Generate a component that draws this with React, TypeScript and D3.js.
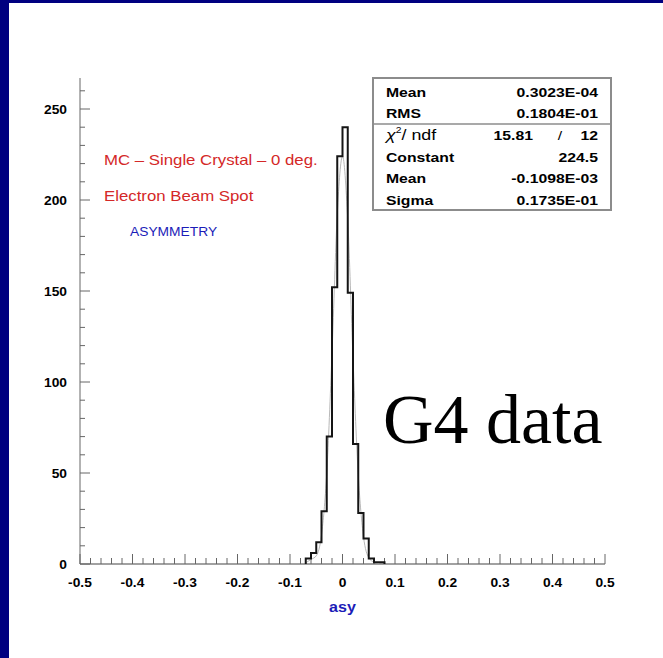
import React from "react";
import * as d3 from "d3";

// ---- data ----
const binLow = [-0.07, -0.06, -0.05, -0.04, -0.03, -0.02, -0.01, 0, 0.01, 0.02, 0.03, 0.04, 0.05, 0.06, 0.07];
const binCounts = [3, 6, 12, 29, 70, 152, 224, 240, 149, 66, 28, 14, 3, 1, 1];
const binWidth = 0.01;

// faint gaussian fit curve
const fitX = [-0.07, -0.06, -0.05, -0.04, -0.03, -0.02, -0.01, 0, 0.01, 0.02, 0.03, 0.04, 0.05, 0.06, 0.07];
const fitY = [0.7, 2.5, 4.5, 16, 50, 116, 192, 224, 189, 113, 49, 15, 3.5, 1, 0.3];

const xTickValues = [-0.5, -0.4, -0.3, -0.2, -0.1, 0, 0.1, 0.2, 0.3, 0.4, 0.5];
const yTickValues = [0, 50, 100, 150, 200, 250];

const statsNames = ["Mean", "RMS"];
const statsValues = ["0.3023E-04", "0.1804E-01"];
const chi2Value = "15.81";
const ndfValue = "12";
const fitNames = ["Constant", "Mean", "Sigma"];
const fitValues = ["224.5", "-0.1098E-03", "0.1735E-01"];

const labelLines = ["MC \u2013 Single Crystal \u2013 0 deg.", "Electron Beam Spot"];
const labelTitle = "ASYMMETRY";
const xAxisTitle = "asy";
const overlayText = "G4 data";

// ---- layout ----
const W = 663;
const H = 658;
const X0 = 80;
const X1 = 605;
const Y0 = 564;
const YTOP = 78;
const SANS = "'Liberation Sans', Arial, Helvetica, sans-serif";
const SX = 1.15;

const x = d3.scaleLinear().domain([-0.5, 0.5]).range([X0, X1]);
const y = d3.scaleLinear().domain([0, 250]).range([Y0, 109]);

function T(props: {
  x: number;
  y: number;
  anchor?: string;
  size: number;
  weight?: string;
  fill?: string;
  sx?: number;
  children: React.ReactNode;
}) {
  const { anchor = "start", size, weight = "normal", fill = "#000", sx = SX } = props;
  return (
    <text
      transform={`translate(${props.x},${props.y}) scale(${sx},1)`}
      textAnchor={anchor}
      fontSize={size}
      fontWeight={weight}
      fill={fill}
      fontFamily={SANS}
    >
      {props.children}
    </text>
  );
}

export default function App() {
  // histogram outline
  let d = `M${x(binLow[0])},${y(0)}`;
  binLow.forEach((lo, i) => {
    d += `V${y(binCounts[i])}H${x(lo + binWidth)}`;
  });
  d += `V${y(0)}`;

  const fitLine = d3
    .line<number>()
    .x((_, i) => x(fitX[i]))
    .y((v) => y(v))
    .curve(d3.curveMonotoneX)(fitY) as string;

  const xMinor = d3.range(-0.5, 0.5001, 0.02);
  const yMinor = d3.range(0, y.invert(YTOP), 10);

  const axisColor = "#666";
  const fmtX = (v: number) => (Math.abs(v) < 1e-9 ? "0" : v.toFixed(1));

  const boxL = 373;
  const boxR = 611;
  const boxT = 78;
  const boxB = 210;
  const rowY = [97, 118, 140, 162, 183, 205];
  const nameX = 386;
  const valX = 598;
  const ST = 13.7;

  return (
    <svg width={W} height={H} style={{ position: "absolute", left: 0, top: 0 }}>
      <rect x={0} y={0} width={W} height={H} fill="#fff" />
      <rect x={0} y={0} width={W} height={3} fill="#000080" />
      <rect x={0} y={0} width={9} height={H} fill="#000080" />

      {/* axes */}
      <line x1={X0} x2={X0} y1={Y0} y2={YTOP} stroke={axisColor} strokeWidth={1} />
      <line x1={X0} x2={X1} y1={Y0} y2={Y0} stroke="#444" strokeWidth={1.2} />
      {yMinor.map((v) => (
        <line key={"ym" + v} x1={X0} x2={X0 + (v % 50 === 0 ? 10 : 5)} y1={y(v)} y2={y(v)} stroke={axisColor} />
      ))}
      {xMinor.map((v, i) => (
        <line key={"xm" + i} x1={x(v)} x2={x(v)} y1={Y0} y2={Y0 - (i % 5 === 0 ? 10 : 6)} stroke={axisColor} />
      ))}
      {yTickValues.map((v) => (
        <T key={"yl" + v} x={67} y={y(v) + 4.5} anchor="end" size={12} weight="bold">
          {String(v)}
        </T>
      ))}
      {xTickValues.map((v) => (
        <T key={"xl" + v} x={x(v)} y={587} anchor="middle" size={12} weight="bold">
          {fmtX(v)}
        </T>
      ))}
      <T x={x(0)} y={612} anchor="middle" size={14} weight="bold" fill="#1c1cb8">
        {xAxisTitle}
      </T>

      {/* fit + histogram */}
      <path d={fitLine} fill="none" stroke="#b8b8b8" strokeWidth={1} />
      <path d={d} fill="none" stroke="#151515" strokeWidth={2} />

      {/* labels */}
      <T x={104} y={165} size={14} sx={1.2} fill="#d42828">
        {labelLines[0]}
      </T>
      <T x={104} y={201} size={14} sx={1.2} fill="#d42828">
        {labelLines[1]}
      </T>
      <T x={130} y={236} size={12} fill="#1c1cb8">
        {labelTitle}
      </T>

      {/* stats box */}
      <rect x={boxL} y={boxT} width={boxR - boxL} height={boxB - boxT} fill="#fff" stroke="#8c8c8c" strokeWidth={2} />
      <line x1={boxL} x2={boxR} y1={124} y2={124} stroke="#8c8c8c" strokeWidth={1.5} />
      {statsNames.map((n, i) => (
        <g key={"s" + i}>
          <T x={nameX} y={rowY[i]} size={ST} weight="bold">
            {n}
          </T>
          <T x={valX} y={rowY[i]} anchor="end" size={ST} weight="bold">
            {statsValues[i]}
          </T>
        </g>
      ))}
      <text
        transform={`translate(${nameX},${rowY[2]}) scale(${SX},1)`}
        fontSize={15.5}
        fontFamily={SANS}
        fill="#000"
      >
        <tspan fontStyle="italic">χ</tspan>
        <tspan fontSize={9} dy={-7}>2</tspan>
        <tspan dy={7}>/ ndf</tspan>
      </text>
      <T x={533} y={rowY[2]} anchor="end" size={ST} weight="bold">
        {chi2Value}
      </T>
      <T x={560} y={rowY[2]} anchor="middle" size={ST}>
        /
      </T>
      <T x={valX} y={rowY[2]} anchor="end" size={ST} weight="bold">
        {ndfValue}
      </T>
      {fitNames.map((n, i) => (
        <g key={"f" + i}>
          <T x={nameX} y={rowY[3 + i]} size={ST} weight="bold">
            {n}
          </T>
          <T x={valX} y={rowY[3 + i]} anchor="end" size={ST} weight="bold">
            {fitValues[i]}
          </T>
        </g>
      ))}

      {/* overlay */}
      <text x={383} y={443} fontSize={70} fontFamily="'Liberation Serif', 'Times New Roman', serif" fill="#000">
        {overlayText}
      </text>
    </svg>
  );
}
